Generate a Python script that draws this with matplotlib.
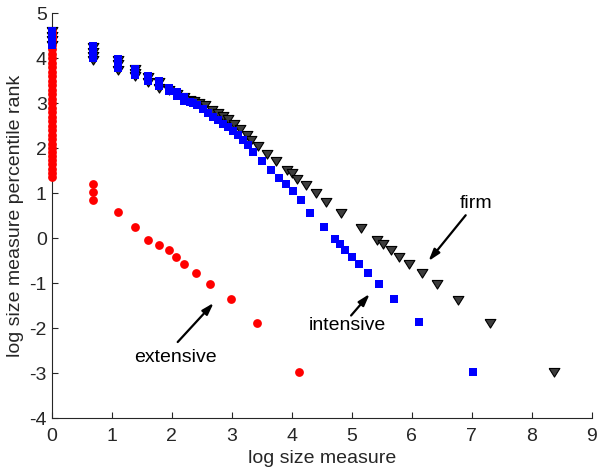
from matplotlib import pyplot as plt

plt.rcParams['font.family'] = ['Liberation Sans', 'DejaVu Sans']
plt.rcParams['axes.unicode_minus'] = False

# extensive measure (red circles)
ext_x = [0] * 36 + [0.69, 0.69, 0.69, 1.10, 1.39, 1.61, 1.79, 1.95, 2.08, 2.20,
                    2.40, 2.64, 2.99, 3.43, 4.12]
ext_y = [4.60, 4.55, 4.50, 4.45, 4.40, 4.30, 4.20, 4.10, 4.00, 3.90, 3.80, 3.70,
         3.60, 3.50, 3.40, 3.30, 3.20, 3.10, 3.00, 2.90, 2.80, 2.70, 2.60, 2.50,
         2.40, 2.30, 2.20, 2.10, 2.00, 1.92, 1.83, 1.74, 1.64, 1.53, 1.44, 1.37,
         1.21, 1.03, 0.84, 0.58, 0.24, -0.03, -0.15, -0.27, -0.41, -0.58,
         -0.78, -1.03, -1.36, -1.88, -2.97]

# intensive measure (blue squares)
int_x = [0, 0, 0, 0, 0.69, 0.69, 0.69, 0.69, 1.10, 1.10, 1.10, 1.39, 1.39, 1.39,
         1.61, 1.61, 1.79, 1.79, 1.96, 1.96, 2.09, 2.09, 2.20, 2.20, 2.30, 2.36,
         2.43, 2.53, 2.61, 2.69, 2.78, 2.86, 2.94, 3.03, 3.11, 3.19, 3.28, 3.36,
         3.50, 3.66, 3.79, 3.90, 4.02, 4.15, 4.31, 4.54, 4.72, 4.80, 4.89, 5.00,
         5.13, 5.27, 5.46, 5.71, 6.12, 7.03]
int_y = [4.60, 4.50, 4.40, 4.30, 4.27, 4.18, 4.09, 4.01, 3.98, 3.88, 3.79, 3.77,
         3.70, 3.63, 3.61, 3.49, 3.49, 3.38, 3.35, 3.27, 3.24, 3.17, 3.13, 3.06,
         3.03, 3.00, 2.96, 2.88, 2.78, 2.70, 2.62, 2.55, 2.47, 2.39, 2.29, 2.18,
         2.07, 1.92, 1.72, 1.51, 1.34, 1.20, 1.04, 0.84, 0.57, 0.25, -0.01, -0.14,
         -0.27, -0.41, -0.58, -0.78, -1.03, -1.36, -1.87, -2.97]

# firm size (dark triangles)
firm_x = [0, 0, 0, 0, 0.69, 0.69, 0.69, 0.69, 1.10, 1.10, 1.10, 1.39, 1.39, 1.39,
          1.61, 1.61, 1.79, 1.79, 1.95, 2.09, 2.20, 2.30, 2.38, 2.46, 2.56, 2.67,
          2.78, 2.86, 2.94, 3.04, 3.14, 3.25, 3.33, 3.44, 3.59, 3.74, 3.93, 4.00,
          4.09, 4.24, 4.40, 4.57, 4.83, 5.15, 5.42, 5.53, 5.66, 5.79, 5.96, 6.17,
          6.43, 6.78, 7.30, 8.38]
firm_y = [4.60, 4.50, 4.40, 4.30, 4.25, 4.15, 4.05, 3.96, 3.97, 3.87, 3.75, 3.76,
          3.68, 3.60, 3.58, 3.47, 3.47, 3.35, 3.30, 3.21, 3.14, 3.08, 3.04, 3.00,
          2.97, 2.86, 2.79, 2.71, 2.64, 2.53, 2.42, 2.29, 2.18, 2.04, 1.87, 1.71,
          1.51, 1.45, 1.32, 1.18, 1.01, 0.80, 0.56, 0.22, -0.03, -0.14, -0.27,
          -0.41, -0.57, -0.78, -1.03, -1.38, -1.88, -2.97]

axc = '#262626'
fig = plt.figure(figsize=(5.97, 4.70), dpi=100)
ax = fig.add_axes([0.0866, 0.1106, 0.9045, 0.861])

tri = [(-1.0, 0.75), (1.0, 0.75), (0.0, -0.85), (-1.0, 0.75)]
ax.scatter(firm_x, firm_y, marker=tri, s=60, color='#3c3c3c', edgecolors='black',
           linewidths=0.8, zorder=2, clip_on=False)
ax.scatter(ext_x, ext_y, marker='o', s=40, color='#ff0000', linewidths=0, zorder=3,
           clip_on=False)
ax.scatter(int_x, int_y, marker='s', s=32, color='#0000ff', linewidths=0, zorder=4,
           clip_on=False)

arrow = dict(arrowstyle='-|>,head_length=0.7,head_width=0.22', color='black',
             lw=1.6, shrinkA=0, shrinkB=0)
ax.annotate('', xy=(2.70, -1.44), xytext=(2.10, -2.31), arrowprops=arrow)
ax.text(2.06, -2.65, 'extensive', ha='center', va='center', fontsize=14)
ax.annotate('', xy=(5.30, -1.24), xytext=(4.99, -1.72), arrowprops=arrow)
ax.text(4.92, -1.95, 'intensive', ha='center', va='center', fontsize=14)
ax.annotate('', xy=(6.28, -0.51), xytext=(6.90, 0.51), arrowprops=arrow)
ax.text(7.08, 0.77, 'firm', ha='center', va='center', fontsize=14)

ax.set_xlim(0, 9)
ax.set_ylim(-4, 5)
ax.set_xticks(range(0, 10))
ax.set_yticks(range(-4, 6))
for side in ['top', 'right']:
    ax.spines[side].set_visible(False)
for side in ['left', 'bottom']:
    ax.spines[side].set_color(axc)
    ax.spines[side].set_linewidth(0.8)
    ax.spines[side].set_zorder(1)
ax.tick_params(direction='in', length=4, width=0.8, color=axc, labelcolor=axc,
               labelsize=14)
ax.tick_params(axis='x', pad=7)
ax.set_xlabel('log size measure', fontsize=14, color=axc, labelpad=4)
ax.set_ylabel('log size measure percentile rank', fontsize=14, color=axc, labelpad=4)

fig.savefig('out.png', dpi=100)
